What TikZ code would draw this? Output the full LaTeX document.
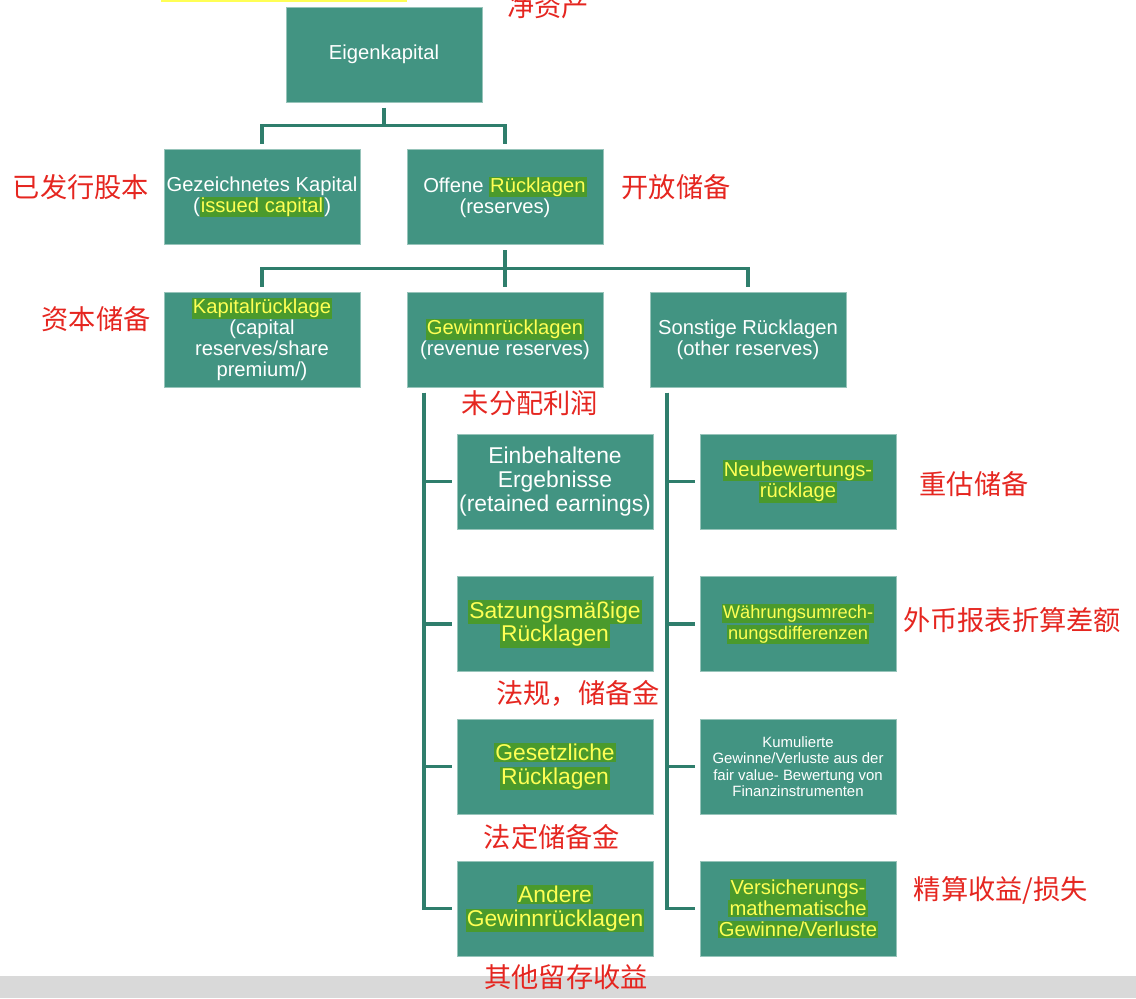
\documentclass[tikz,border=0pt]{standalone}
\usepackage{fontspec}
\setmainfont{Liberation Sans}
\newfontfamily\cjk{Noto Sans CJK SC}
\usepackage{tikz}
\usetikzlibrary{calc}
\definecolor{boxteal}{HTML}{429482}
\definecolor{linkteal}{HTML}{2F7E6C}
\definecolor{hlgreen}{HTML}{4A9A2C}
\definecolor{hlyellow}{HTML}{FFFF55}
\definecolor{labred}{HTML}{E52620}
\definecolor{bargray}{HTML}{D9D9D9}
\newcommand{\hilite}[1]{{\setlength{\fboxsep}{0.6pt}\colorbox{hlgreen}{\textcolor{hlyellow}{#1}}}}
\tikzstyle{entry}=[draw=boxteal!55!white,line width=0.5pt,fill=boxteal,text=white,minimum width=3.92cm,minimum height=1.9cm,inner sep=1pt,align=center,font=\fontsize{11.5}{12}\selectfont]
\tikzstyle{big}=[font=\fontsize{13}{13.5}\selectfont]
\tikzstyle{link}=[draw=linkteal,line width=2.2pt,shorten <=0.11cm,shorten >=0.1cm]
\tikzstyle{note}=[text=labred,inner sep=0pt,font=\cjk\fontsize{15.5}{18}\selectfont]

\begin{document}
\begin{tikzpicture}[x=0.02cm,y=-0.02cm]
\useasboundingbox (0,0) rectangle (1136,998);
\fill[bargray] (0,976) rectangle (1136,998);
\fill[hlyellow] (161,-2) rectangle (407,1.5);

\node[entry] (ek) at (384,54.5) {Eigenkapital};
\node[entry] (gk) at (262,197) {Gezeichnetes Kapital\\(\hilite{issued capital})};
\node[entry] (or) at (505,197) {Offene \hilite{Rücklagen}\\(reserves)};
\node[entry] (kr) at (262,339.5) {\hilite{Kapitalrücklage}\\(capital\\reserves/share\\premium/)};
\node[entry] (gr) at (505,339.5) {\hilite{Gewinnrücklagen}\\(revenue reserves)};
\node[entry] (sr) at (748,339.5) {Sonstige Rücklagen\\(other reserves)};

\node[entry,big] (eb) at (555,481.5) {Einbehaltene\\Ergebnisse\\(retained earnings)};
\node[entry,big] (sm) at (555,624) {\hilite{Satzungsmäßige}\\\hilite{Rücklagen}};
\node[entry,big] (gz) at (555,766.5) {\hilite{Gesetzliche}\\\hilite{Rücklagen}};
\node[entry,big] (ag) at (555,908.5) {\hilite{Andere}\\\hilite{Gewinnrücklagen}};

\node[entry] (nb) at (798,481.5) {\hilite{Neubewertungs-}\\\hilite{rücklage}};
\node[entry,font=\fontsize{10.4}{12}\selectfont] (wu) at (798,624) {\hilite{Währungsumrech-}\\\hilite{nungsdifferenzen}};
\node[entry,font=\fontsize{8.5}{9.4}\selectfont] (ku) at (798,766.5) {Kumulierte\\Gewinne/Verluste aus der\\fair value- Bewertung von\\Finanzinstrumenten};
\node[entry] (vm) at (798,908.5) {\hilite{Versicherungs-}\\\hilite{mathematische}\\\hilite{Gewinne/Verluste}};

\foreach \c in {gk,or} \draw[link] (ek.south) -- ++(0,23) -| (\c.north);
\foreach \c in {kr,gr,sr} \draw[link] (or.south) -- ++(0,23.5) -| (\c.north);
\foreach \c in {eb,sm,gz,ag} \draw[link] ([xshift=0.34cm]gr.south west) |- (\c.west);
\foreach \c in {nb,wu,ku,vm} \draw[link] ([xshift=0.34cm]sr.south west) |- (\c.west);

\node[note] (n-ek) at (548,6) {净资产};
\node[note] (n-gk) at (81,187) {已发行股本};
\node[note] (n-or) at (676,187) {开放储备};
\node[note] (n-kr) at (96,319) {资本储备};
\node[note] (n-gr) at (530,403) {未分配利润};
\node[note] (n-nb) at (974,484) {重估储备};
\node[note] (n-wu) at (1012,620) {外币报表折算差额};
\node[note] (n-sm) at (578,693) {法规，储备金};
\node[note] (n-gz) at (552,837) {法定储备金};
\node[note] (n-vm) at (1001,890) {精算收益/损失};
\node[note] (n-ag) at (566,977) {其他留存收益};

\end{tikzpicture}
\end{document}
